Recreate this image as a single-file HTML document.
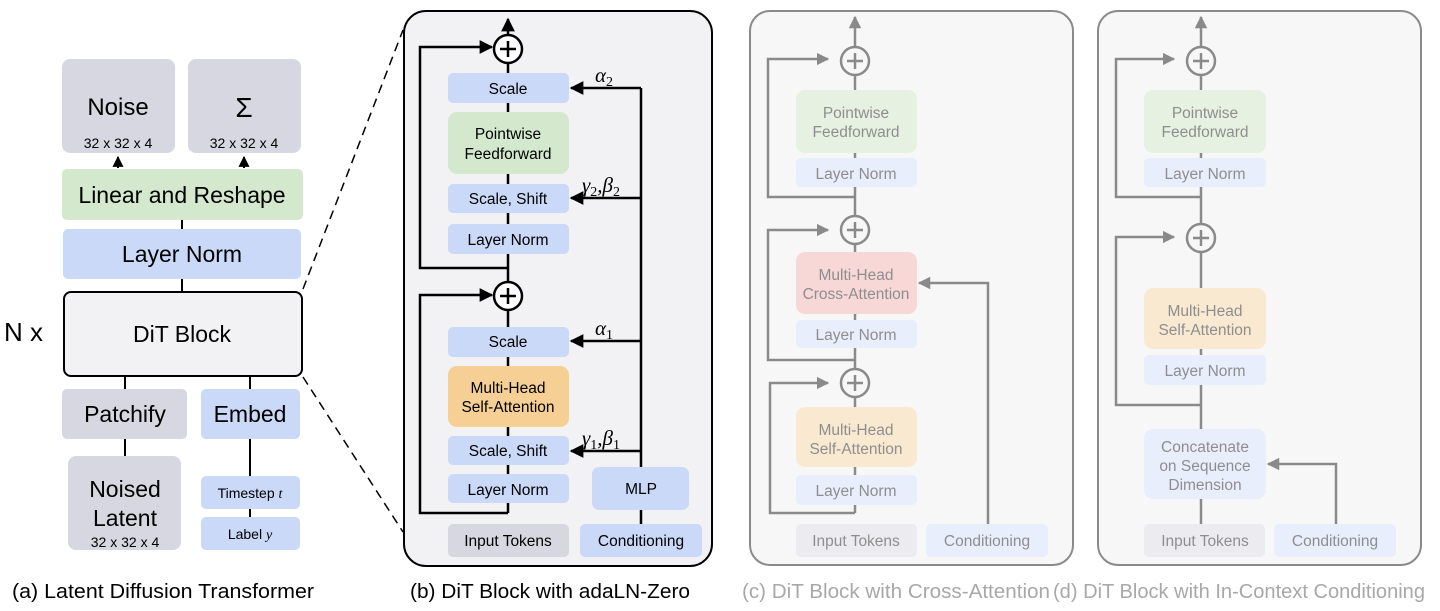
<!DOCTYPE html>
<html><head><meta charset="utf-8"><style>
html,body{margin:0;padding:0;background:#fff;}
svg{display:block;font-family:"Liberation Sans",Arial,sans-serif;}
</style></head><body>
<svg width="1440" height="611" viewBox="0 0 1440 611" xmlns="http://www.w3.org/2000/svg">
<defs>
<marker id="ak" viewBox="0 0 10 10" refX="9" refY="5" markerWidth="5.5" markerHeight="5.5" orient="auto"><path d="M0,0L10,5L0,10z" fill="#000"/></marker>
<marker id="ag" viewBox="0 0 10 10" refX="9" refY="5" markerWidth="5" markerHeight="5" orient="auto"><path d="M0,0L10,5L0,10z" fill="#8a8a8a"/></marker>
</defs>

<!-- Panel (a) -->
<g>
<rect x="62" y="59" width="113" height="94" rx="8" fill="#d6d7e0"/>
<rect x="188" y="59" width="113" height="94" rx="8" fill="#d6d7e0"/>
<text x="118" y="115" font-size="24" text-anchor="middle">Noise</text>
<text x="118" y="148" font-size="14" text-anchor="middle">32 x 32 x 4</text>
<text x="244" y="117" font-size="28" text-anchor="middle">Σ</text>
<text x="244" y="148" font-size="14" text-anchor="middle">32 x 32 x 4</text>
<line x1="118" y1="168" x2="118" y2="157" stroke="#000" stroke-width="2" marker-end="url(#ak)"/>
<line x1="244" y1="168" x2="244" y2="157" stroke="#000" stroke-width="2" marker-end="url(#ak)"/>
<rect x="62" y="169" width="241" height="51" rx="5" fill="#d3e8cc"/>
<text x="182" y="203" font-size="23" text-anchor="middle">Linear and Reshape</text>
<line x1="182" y1="220" x2="182" y2="229" stroke="#000" stroke-width="2"/>
<rect x="63" y="229" width="238" height="50" rx="5" fill="#c9d9f7"/>
<text x="182" y="262" font-size="23" text-anchor="middle">Layer Norm</text>
<line x1="182" y1="279" x2="182" y2="291" stroke="#000" stroke-width="2"/>
<rect x="64" y="292" width="238" height="84" rx="7" fill="#f2f2f4" stroke="#000" stroke-width="2"/>
<text x="182" y="342" font-size="23" text-anchor="middle">DiT Block</text>
<text x="4" y="341" font-size="26">N x</text>
<line x1="125" y1="377" x2="125" y2="389" stroke="#000" stroke-width="2"/>
<line x1="250" y1="377" x2="250" y2="389" stroke="#000" stroke-width="2"/>
<rect x="62" y="389" width="125" height="50" rx="5" fill="#d6d7e0"/>
<text x="125" y="422" font-size="23" text-anchor="middle">Patchify</text>
<rect x="201" y="389" width="99" height="50" rx="5" fill="#c9d9f7"/>
<text x="250" y="422" font-size="23" text-anchor="middle">Embed</text>
<line x1="125" y1="439" x2="125" y2="456" stroke="#000" stroke-width="2"/>
<line x1="250" y1="439" x2="250" y2="476" stroke="#000" stroke-width="2"/>
<rect x="68" y="456" width="113" height="94" rx="8" fill="#d6d7e0"/>
<text x="125" y="497" font-size="23" text-anchor="middle">Noised</text>
<text x="125" y="526" font-size="23" text-anchor="middle">Latent</text>
<text x="125" y="547" font-size="14" text-anchor="middle">32 x 32 x 4</text>
<rect x="201" y="476" width="99" height="33" rx="5" fill="#c9d9f7"/>
<text x="250" y="498" font-size="14" text-anchor="middle">Timestep <tspan font-family="Liberation Serif" font-style="italic">t</tspan></text>
<line x1="250" y1="509" x2="250" y2="517" stroke="#000" stroke-width="2"/>
<rect x="201" y="517" width="99" height="33" rx="5" fill="#c9d9f7"/>
<text x="250" y="539" font-size="14" text-anchor="middle">Label <tspan font-family="Liberation Serif" font-style="italic">y</tspan></text>
<line x1="303" y1="289" x2="403" y2="30" stroke="#000" stroke-width="1.5" stroke-dasharray="9,6"/>
<line x1="303" y1="377" x2="403" y2="532" stroke="#000" stroke-width="1.5" stroke-dasharray="9,6"/>
<text x="12" y="598" font-size="20" textLength="302" lengthAdjust="spacingAndGlyphs">(a) Latent Diffusion Transformer</text>
</g>

<!-- Panel (b) -->
<g>
<rect x="404" y="11" width="308" height="555" rx="22" fill="#f2f2f4" stroke="#000" stroke-width="2"/>
<line x1="508" y1="513" x2="508" y2="19" stroke="#000" stroke-width="2.5" marker-end="url(#ak)"/>
<circle cx="508" cy="49" r="14" fill="#fff" stroke="#000" stroke-width="2.5"/>
<path d="M500,49H516M508,41V57" stroke="#000" stroke-width="2.5"/>
<circle cx="508" cy="296" r="14" fill="#fff" stroke="#000" stroke-width="2.5"/>
<path d="M500,296H516M508,288V304" stroke="#000" stroke-width="2.5"/>
<polyline points="508,268 420,268 420,47 492,47" fill="none" stroke="#000" stroke-width="2.5" marker-end="url(#ak)"/>
<polyline points="508,513 420,513 420,295 492,295" fill="none" stroke="#000" stroke-width="2.5" marker-end="url(#ak)"/>
<g font-size="15.5" text-anchor="middle">
<rect x="448" y="73" width="121" height="30" rx="5" fill="#c9d9f7"/><text x="508" y="94">Scale</text>
<rect x="448" y="112" width="121" height="62" rx="9" fill="#d3e8cc"/><text x="508" y="139">Pointwise</text><text x="508" y="159">Feedforward</text>
<rect x="448" y="184" width="121" height="29" rx="5" fill="#c9d9f7"/><text x="508" y="204">Scale, Shift</text>
<rect x="448" y="224" width="121" height="30" rx="5" fill="#c9d9f7"/><text x="508" y="245">Layer Norm</text>
<rect x="448" y="327" width="121" height="30" rx="5" fill="#c9d9f7"/><text x="508" y="347">Scale</text>
<rect x="448" y="366" width="121" height="61" rx="9" fill="#f5cf93"/><text x="508" y="393">Multi-Head</text><text x="508" y="412">Self-Attention</text>
<rect x="448" y="436" width="121" height="29" rx="5" fill="#c9d9f7"/><text x="508" y="456">Scale, Shift</text>
<rect x="448" y="474" width="121" height="29" rx="5" fill="#c9d9f7"/><text x="508" y="495">Layer Norm</text>
<rect x="448" y="524" width="121" height="33" rx="5" fill="#d6d7e0"/><text x="508" y="546">Input Tokens</text>
<rect x="580" y="524" width="122" height="33" rx="5" fill="#c9d9f7"/><text x="641" y="546">Conditioning</text>
<rect x="592" y="467" width="97" height="43" rx="7" fill="#c9d9f7"/><text x="641" y="494">MLP</text>
</g>
<line x1="641" y1="88" x2="641" y2="467" stroke="#000" stroke-width="2.5"/>
<line x1="641" y1="510" x2="641" y2="524" stroke="#000" stroke-width="2.5"/>
<line x1="641" y1="88" x2="571" y2="88" stroke="#000" stroke-width="2.5" marker-end="url(#ak)"/>
<line x1="641" y1="198" x2="571" y2="198" stroke="#000" stroke-width="2.5" marker-end="url(#ak)"/>
<line x1="641" y1="341" x2="571" y2="341" stroke="#000" stroke-width="2.5" marker-end="url(#ak)"/>
<line x1="641" y1="451" x2="571" y2="451" stroke="#000" stroke-width="2.5" marker-end="url(#ak)"/>
<g font-family="Liberation Serif" font-style="italic" font-size="21">
<text x="595" y="82">α<tspan font-size="14" dy="4" font-style="normal">2</tspan></text>
<text x="582" y="192">γ<tspan font-size="14" dy="4" font-style="normal">2</tspan><tspan dy="-4">,β</tspan><tspan font-size="14" dy="4" font-style="normal">2</tspan></text>
<text x="595" y="335">α<tspan font-size="14" dy="4" font-style="normal">1</tspan></text>
<text x="582" y="445">γ<tspan font-size="14" dy="4" font-style="normal">1</tspan><tspan dy="-4">,β</tspan><tspan font-size="14" dy="4" font-style="normal">1</tspan></text>
</g>
<text x="410" y="598" font-size="20" textLength="280" lengthAdjust="spacingAndGlyphs">(b) DiT Block with adaLN-Zero</text>
</g>

<!-- Panel (c) -->
<g>
<rect x="750" y="11" width="323" height="554" rx="20" fill="#f7f7f8" stroke="#8a8a8a" stroke-width="2"/>
<line x1="855" y1="513" x2="855" y2="17" stroke="#8a8a8a" stroke-width="2.5" marker-end="url(#ag)"/>
<polyline points="855,197 768,197 768,59 828,59" fill="none" stroke="#8a8a8a" stroke-width="2.5" marker-end="url(#ag)"/>
<polyline points="855,360 768,360 768,230 828,230" fill="none" stroke="#8a8a8a" stroke-width="2.5" marker-end="url(#ag)"/>
<polyline points="855,513 770,513 770,383 828,383" fill="none" stroke="#8a8a8a" stroke-width="2.5" marker-end="url(#ag)"/>
<g fill="#f7f7f8" stroke="#8a8a8a" stroke-width="2.5">
<circle cx="855" cy="61" r="14"/><circle cx="855" cy="230" r="14"/><circle cx="855" cy="383" r="14"/>
</g>
<path d="M847,61H863M855,53V69M847,230H863M855,222V238M847,383H863M855,375V391" stroke="#8a8a8a" stroke-width="2.5"/>
<g font-size="15.5" text-anchor="middle" fill="#8e8e8e">
<rect x="796" y="90" width="121" height="63" rx="9" fill="#e6f1e2"/><text x="856" y="118">Pointwise</text><text x="856" y="137">Feedforward</text>
<rect x="796" y="158" width="121" height="29" rx="5" fill="#e8eefb"/><text x="856" y="179">Layer Norm</text>
<rect x="796" y="252" width="121" height="62" rx="9" fill="#f8d7d7"/><text x="856" y="280">Multi-Head</text><text x="856" y="299">Cross-Attention</text>
<rect x="796" y="320" width="121" height="28" rx="5" fill="#e8eefb"/><text x="856" y="340">Layer Norm</text>
<rect x="796" y="407" width="121" height="60" rx="9" fill="#fae9d1"/><text x="856" y="435">Multi-Head</text><text x="856" y="454">Self-Attention</text>
<rect x="796" y="475" width="121" height="30" rx="5" fill="#e8eefb"/><text x="856" y="496">Layer Norm</text>
<rect x="796" y="524" width="121" height="33" rx="5" fill="#ececf0"/><text x="856" y="546">Input Tokens</text>
<rect x="926" y="524" width="122" height="33" rx="5" fill="#e8eefb"/><text x="987" y="546">Conditioning</text>
</g>
<polyline points="988,524 988,283 919,283" fill="none" stroke="#8a8a8a" stroke-width="2.5" marker-end="url(#ag)"/>
<text x="742" y="598" font-size="20" fill="#a8a8a8" textLength="308" lengthAdjust="spacingAndGlyphs">(c) DiT Block with Cross-Attention</text>
</g>

<!-- Panel (d) -->
<g>
<rect x="1098" y="11" width="323" height="554" rx="20" fill="#f7f7f8" stroke="#8a8a8a" stroke-width="2"/>
<line x1="1201" y1="524" x2="1201" y2="17" stroke="#8a8a8a" stroke-width="2.5" marker-end="url(#ag)"/>
<polyline points="1201,197 1116,197 1116,59 1174,59" fill="none" stroke="#8a8a8a" stroke-width="2.5" marker-end="url(#ag)"/>
<polyline points="1201,405 1116,405 1116,237 1174,237" fill="none" stroke="#8a8a8a" stroke-width="2.5" marker-end="url(#ag)"/>
<g fill="#f7f7f8" stroke="#8a8a8a" stroke-width="2.5">
<circle cx="1201" cy="61" r="14"/><circle cx="1201" cy="238" r="14"/>
</g>
<path d="M1193,61H1209M1201,53V69M1193,238H1209M1201,230V246" stroke="#8a8a8a" stroke-width="2.5"/>
<g font-size="15.5" text-anchor="middle" fill="#8e8e8e">
<rect x="1144" y="90" width="122" height="63" rx="9" fill="#e6f1e2"/><text x="1205" y="118">Pointwise</text><text x="1205" y="137">Feedforward</text>
<rect x="1144" y="158" width="122" height="29" rx="5" fill="#e8eefb"/><text x="1205" y="179">Layer Norm</text>
<rect x="1144" y="288" width="122" height="61" rx="9" fill="#fae9d1"/><text x="1205" y="316">Multi-Head</text><text x="1205" y="335">Self-Attention</text>
<rect x="1144" y="355" width="122" height="30" rx="5" fill="#e8eefb"/><text x="1205" y="376">Layer Norm</text>
<rect x="1144" y="429" width="122" height="70" rx="9" fill="#e8eefb"/><text x="1205" y="452">Concatenate</text><text x="1205" y="471">on Sequence</text><text x="1205" y="490">Dimension</text>
<rect x="1144" y="524" width="121" height="33" rx="5" fill="#ececf0"/><text x="1205" y="546">Input Tokens</text>
<rect x="1274" y="524" width="122" height="33" rx="5" fill="#e8eefb"/><text x="1335" y="546">Conditioning</text>
</g>
<polyline points="1336,524 1336,464 1268,464" fill="none" stroke="#8a8a8a" stroke-width="2.5" marker-end="url(#ag)"/>
<text x="1053" y="598" font-size="20" fill="#a8a8a8" textLength="372" lengthAdjust="spacingAndGlyphs">(d) DiT Block with In-Context Conditioning</text>
</g>
</svg>
</body></html>
